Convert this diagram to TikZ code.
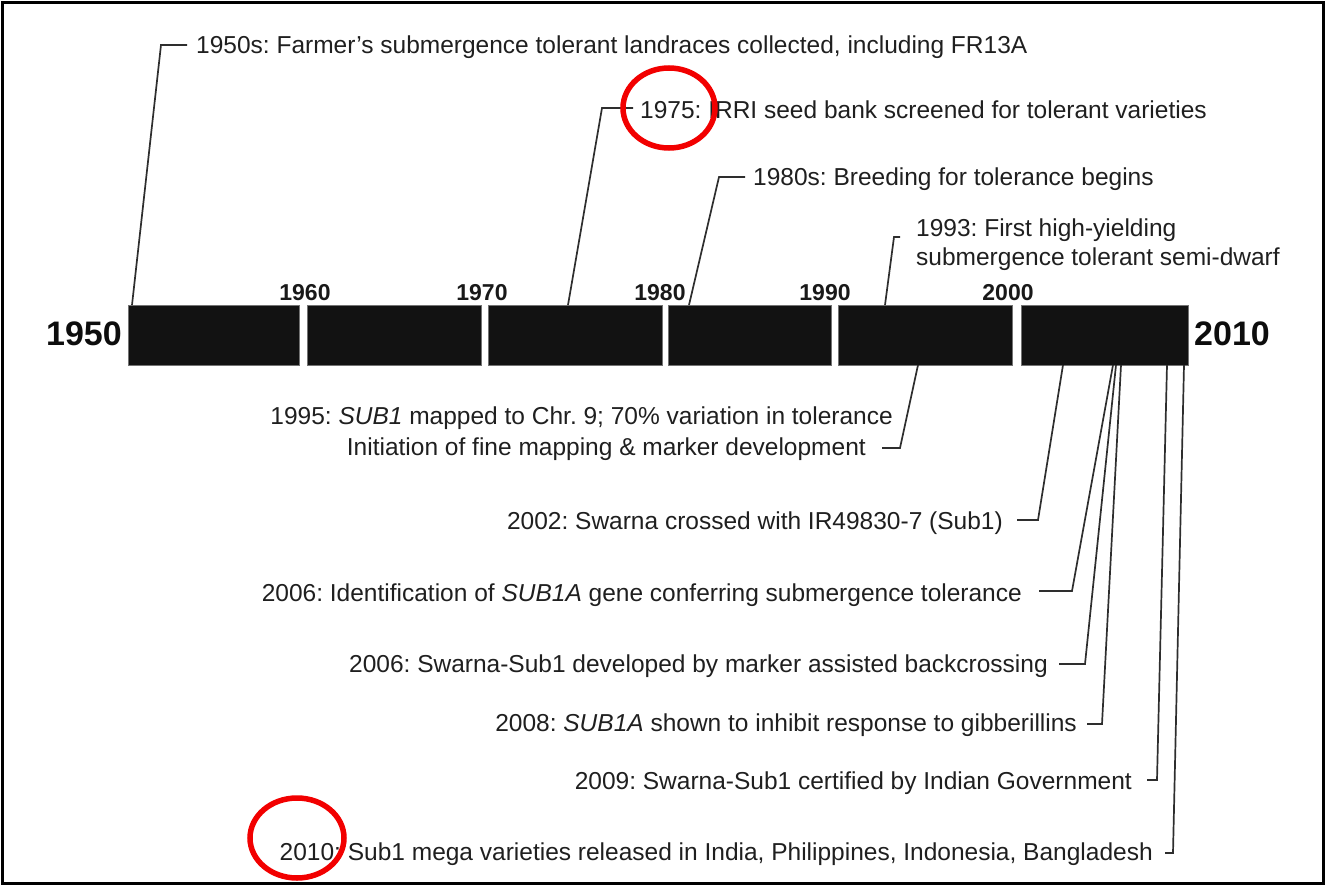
\documentclass[tikz,border=0pt]{standalone}
\usepackage{fontspec}
\setmainfont{Liberation Sans}
\frenchspacing
\begin{document}
\frenchspacing
\begin{tikzpicture}[x=1pt,y=-1pt,
  txt/.style={inner sep=0pt, text=black!88, font=\fontsize{24.5}{29}\selectfont},
  yr/.style={inner sep=0pt, text=black!90, font=\bfseries\fontsize{23}{27}\selectfont},
  big/.style={inner sep=0pt, text=black!95, font=\bfseries\fontsize{34}{40}\selectfont},
  seg/.style={fill=black!93, draw=black!55, line width=0.8pt},
  lead/.style={draw=black!82, line width=1.7pt},
  ring/.style={draw=red!95!black, line width=5.5pt}]
\useasboundingbox (0,0) rectangle (1326,886);
\draw[line width=3pt] (2.5,2.5) rectangle (1323.5,883.5);

% timeline bar
\path[seg] (128,305) rectangle (299,365);
\path[seg] (307,305) rectangle (481,365);
\path[seg] (488,305) rectangle (662,365);
\path[seg] (668,305) rectangle (831,365);
\path[seg] (838,305) rectangle (1012,365);
\path[seg] (1021,305) rectangle (1188,365);

% end labels and decade labels
\node[big, anchor=base east] (y1950) at (122,345) {1950};
\node[big, anchor=base west] (y2010) at (1194,345) {2010};
\node[yr, anchor=base] (y1960) at (305,300) {1960};
\node[yr, anchor=base] (y1970) at (482,300) {1970};
\node[yr, anchor=base] (y1980) at (660,300) {1980};
\node[yr, anchor=base] (y1990) at (825,300) {1990};
\node[yr, anchor=base] (y2000) at (1008,300) {2000};

% events above
\node[txt, anchor=base west] (e1950) at (196,53) {1950s: Farmer's submergence tolerant landraces collected, including FR13A};
\node[txt, anchor=base west] (e1975) at (640,118) {1975: IRRI seed bank screened for tolerant varieties};
\node[txt, anchor=base west] (e1980) at (753,185) {1980s: Breeding for tolerance begins};
\node[txt, anchor=base west] (e1993a) at (916,236) {1993: First high-yielding};
\node[txt, anchor=base west] (e1993b) at (916,265) {submergence tolerant semi-dwarf};

\coordinate (b1950) at (132,305);
\coordinate (k1950) at (161,45);
\coordinate (t1950) at (187,45);
\coordinate (b1975) at (568,305);
\coordinate (k1975) at (602,108);
\coordinate (t1975) at (633,108);
\coordinate (b1980) at (689,305);
\coordinate (k1980) at (719,177);
\coordinate (t1980) at (745,177);
\coordinate (b1993) at (885,305);
\coordinate (k1993) at (894,237);
\coordinate (t1993) at (900,237);
\draw[lead] (b1950) -- (k1950) -- (t1950);
\draw[lead] (b1975) -- (k1975) -- (t1975);
\draw[lead] (b1980) -- (k1980) -- (t1980);
\draw[lead] (b1993) -- (k1993) -- (t1993);

% events below
\node[txt, anchor=base east] (e1995a) at (893,424) {1995: \textit{SUB1} mapped to Chr. 9; 70\% variation in tolerance};
\node[txt, anchor=base east] (e1995b) at (866,455) {Initiation of fine mapping \& marker development};
\node[txt, anchor=base east] (e2002) at (1003,529) {2002: Swarna crossed with IR49830-7 (Sub1)};
\node[txt, anchor=base east] (e2006a) at (1022,601) {2006: Identification of \textit{SUB1A} gene conferring submergence tolerance};
\node[txt, anchor=base east] (e2006b) at (1048,672) {2006: Swarna-Sub1 developed by marker assisted backcrossing};
\node[txt, anchor=base east] (e2008) at (1077,731) {2008: \textit{SUB1A} shown to inhibit response to gibberillins};
\node[txt, anchor=base east] (e2009) at (1132,789) {2009: Swarna-Sub1 certified by Indian Government};
\node[txt, anchor=base east] (e2010) at (1153,860) {2010: Sub1 mega varieties released in India, Philippines, Indonesia, Bangladesh};

\coordinate (b1995) at (918,365);
\coordinate (k1995) at (900,448);
\coordinate (t1995) at (882,448);
\coordinate (b2002) at (1063,365);
\coordinate (k2002) at (1038,520);
\coordinate (t2002) at (1017,520);
\coordinate (b2006a) at (1113,365);
\coordinate (k2006a) at (1072,591);
\coordinate (t2006a) at (1039,591);
\coordinate (b2006b) at (1116,365);
\coordinate (k2006b) at (1085,664);
\coordinate (t2006b) at (1059,664);
\coordinate (b2008) at (1121,365);
\coordinate (k2008) at (1102,724);
\coordinate (t2008) at (1087,724);
\coordinate (b2009) at (1167,365);
\coordinate (k2009) at (1157,780);
\coordinate (t2009) at (1147,780);
\coordinate (b2010) at (1184,365);
\coordinate (k2010) at (1173,853);
\coordinate (t2010) at (1165,853);
\draw[lead] (b1995) -- (k1995) -- (t1995);
\draw[lead] (b2002) -- (k2002) -- (t2002);
\draw[lead] (b2006a) -- (k2006a) -- (t2006a);
\draw[lead] (b2006b) -- (k2006b) -- (t2006b);
\draw[lead] (b2008) -- (k2008) -- (t2008);
\draw[lead] (b2009) -- (k2009) -- (t2009);
\draw[lead] (b2010) -- (k2010) -- (t2010);

% red highlight rings
\draw[ring] (669,108) ellipse [x radius=46, y radius=40];
\draw[ring] (297,838) ellipse [x radius=47, y radius=40];
\end{tikzpicture}
\end{document}
